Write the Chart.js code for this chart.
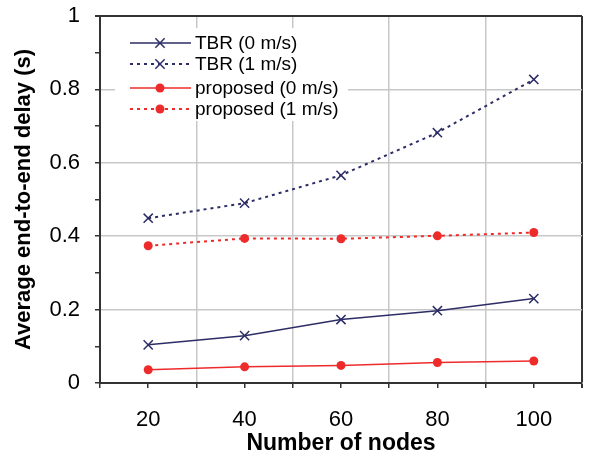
<!DOCTYPE html>
<html>
<head>
<meta charset="utf-8">
<script src="https://cdn.jsdelivr.net/npm/chart.js@4.4.1/dist/chart.umd.min.js"></script>
<style>
  html, body { margin: 0; padding: 0; background: #fff; }
  canvas { display: block; }
</style>
</head>
<body>
<canvas id="delayChart" width="596" height="459"></canvas>
<script>
// --- données ---
const nodes = [20, 40, 60, 80, 100];
const tbr0 = [0.104, 0.129, 0.173, 0.197, 0.230];
const tbr1 = [0.449, 0.490, 0.566, 0.682, 0.827];
const prop0 = [0.036, 0.044, 0.048, 0.056, 0.060];
const prop1 = [0.374, 0.394, 0.393, 0.401, 0.410];
const seriesLabels = ['TBR (0 m/s)', 'TBR (1 m/s)', 'proposed (0 m/s)', 'proposed (1 m/s)'];

const NAVY = '#2c2d66';
const RED = '#ee2b2b';
const GRID = '#c8c8c8';
const AXIS = '#333';

function pts(ys) {
    return nodes.map((x, i) => ({ x: x, y: ys[i] }));
}

// légende maison : trait + marqueur, sur fond blanc
const boxLegend = {
    id: 'boxLegend',
    beforeDatasetsDraw(chart) {
        const ctx = chart.ctx;
        ctx.save();
        ctx.fillStyle = '#fff';
        ctx.fillRect(115, 28, 233, 93);
        const rows = [43, 64, 88, 109];
        chart.data.datasets.forEach((ds, i) => {
            const y = rows[i];
            ctx.strokeStyle = ds.borderColor;
            ctx.lineWidth = ds.borderWidth;
            ctx.setLineDash(ds.borderDash || []);
            ctx.beginPath();
            ctx.moveTo(130, y);
            ctx.lineTo(191, y);
            ctx.stroke();
            ctx.setLineDash([]);
            if (ds.pointStyle === 'crossRot') {
                const r = ds.pointRadius * 0.72;
                ctx.lineWidth = 1.5;
                ctx.beginPath();
                ctx.moveTo(160 - r, y - r); ctx.lineTo(160 + r, y + r);
                ctx.moveTo(160 - r, y + r); ctx.lineTo(160 + r, y - r);
                ctx.stroke();
            } else {
                ctx.fillStyle = ds.pointBackgroundColor;
                ctx.beginPath();
                ctx.arc(160, y, ds.pointRadius, 0, Math.PI * 2);
                ctx.fill();
            }
            ctx.fillStyle = '#000';
            ctx.font = '19px "Liberation Sans", Arial, sans-serif';
            ctx.textBaseline = 'middle';
            ctx.fillText(ds.label, 195, y + 1);
        });
        ctx.restore();
    }
};

const ctx = document.getElementById('delayChart').getContext('2d');
const chart = new Chart(ctx, {
    type: 'line',
    data: {
        datasets: [{
            label: seriesLabels[0],
            data: pts(tbr0),
            borderColor: NAVY,
            borderWidth: 1.5,
            pointStyle: 'crossRot',
            pointRadius: 6.5,
            pointBorderWidth: 1.5,
            pointBorderColor: NAVY,
            pointBackgroundColor: NAVY
        }, {
            label: seriesLabels[1],
            data: pts(tbr1),
            borderColor: NAVY,
            borderWidth: 2,
            borderDash: [3, 4],
            pointStyle: 'crossRot',
            pointRadius: 6.5,
            pointBorderWidth: 1.5,
            pointBorderColor: NAVY,
            pointBackgroundColor: NAVY
        }, {
            label: seriesLabels[2],
            data: pts(prop0),
            borderColor: RED,
            borderWidth: 1.5,
            pointStyle: 'circle',
            pointRadius: 4.5,
            pointBorderWidth: 0,
            pointBackgroundColor: RED
        }, {
            label: seriesLabels[3],
            data: pts(prop1),
            borderColor: RED,
            borderWidth: 2,
            borderDash: [3, 4],
            pointStyle: 'circle',
            pointRadius: 4.5,
            pointBorderWidth: 0,
            pointBackgroundColor: RED
        }]
    },
    options: {
        responsive: false,
        animation: false,
        layout: { padding: { left: 0, right: 14, top: 16, bottom: 0 } },
        elements: { line: { tension: 0 } },
        plugins: { legend: { display: false }, tooltip: { enabled: false } },
        scales: {
            x: {
                type: 'linear',
                min: 10,
                max: 110,
                afterFit: s => { s.height = 76; s.paddingLeft = 0; s.paddingRight = 0; },
                border: { color: AXIS, width: 2 },
                grid: {
                    color: c => {
                        const v = Math.round(c.tick.value);
                        if (v === 110) return AXIS;
                        return (v % 20 === 10 && v !== 10) ? GRID : 'rgba(0,0,0,0)';
                    },
                    lineWidth: c => Math.round(c.tick.value) === 110 ? 2 : 1.5,
                    tickColor: AXIS,
                    tickLength: 5
                },
                ticks: {
                    stepSize: 10,
                    padding: 19,
                    color: '#000',
                    maxRotation: 0,
                    autoSkip: false,
                    font: { size: 22, family: '"Liberation Sans", Arial, sans-serif' },
                    callback: v => (v % 20 === 0 && v >= 20 && v <= 100) ? String(v) : ''
                },
                title: {
                    display: true,
                    text: 'Number of nodes',
                    color: '#000',
                    padding: { top: 0, bottom: 2 },
                    font: { size: 23, weight: 'bold', family: '"Liberation Sans", Arial, sans-serif' }
                }
            },
            y: {
                min: 0,
                max: 1,
                afterFit: s => { s.width = 100; s.paddingTop = 0; s.paddingBottom = 0; },
                border: { color: AXIS, width: 2 },
                grid: {
                    color: c => {
                        const v = Math.round(c.tick.value * 10);
                        if (v === 10) return AXIS;
                        return (v % 2 === 0 && v > 0) ? GRID : 'rgba(0,0,0,0)';
                    },
                    lineWidth: c => Math.round(c.tick.value * 10) === 10 ? 2 : 1.5,
                    tickColor: AXIS,
                    tickLength: 5
                },
                ticks: {
                    stepSize: 0.1,
                    padding: 15,
                    color: '#000',
                    autoSkip: false,
                    font: { size: 22, family: '"Liberation Sans", Arial, sans-serif' },
                    callback: v => {
                        const k = Math.round(v * 10);
                        if (k % 2 !== 0) return '';
                        if (k === 0) return '0';
                        if (k === 10) return '1';
                        return (k / 10).toFixed(1);
                    }
                },
                title: {
                    display: true,
                    text: 'Average end-to-end delay (s)',
                    color: '#000',
                    padding: { top: 11, bottom: 0 },
                    font: { size: 22, weight: 'bold', family: '"Liberation Sans", Arial, sans-serif' }
                }
            }
        }
    },
    plugins: [boxLegend]
});
</script>
</body>
</html>
